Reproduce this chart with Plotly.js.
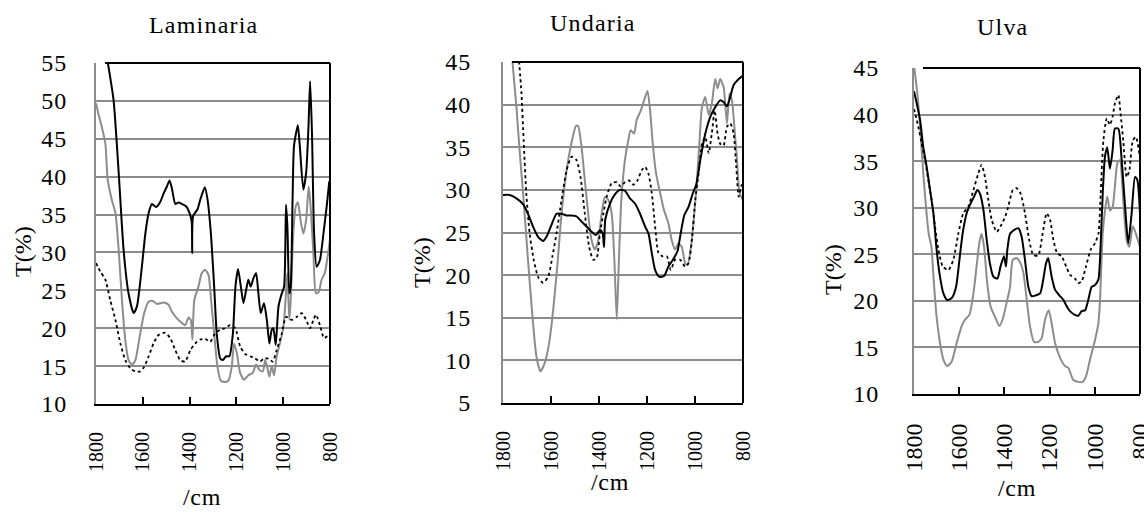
<!DOCTYPE html>
<html><head><meta charset="utf-8">
<script src="https://cdn.plot.ly/plotly-3.0.1.min.js"></script>
<style>html,body{margin:0;padding:0;background:#fff}#c{width:1144px;height:512px}</style>
</head><body><div id="c"></div>
<script>
// ---------- DATA ----------
const panelTitles = ["Laminaria", "Undaria", "Ulva"];
const xTickVals = [1800, 1600, 1400, 1200, 1000, 800];

// Laminaria
const lamBlackX = [1752,1725,1703,1682,1661,1639,1625,1604,1589,1575,1561,1543,1525,1511,1497,1486,1476,1461,1447,1433,1415,1400,1391,1389,1385,1366,1355,1335,1323,1309,1295,1284,1269,1258,1244,1230,1215,1204,1193,1181,1170,1158,1149,1139,1127,1116,1106,1096,1082,1070,1059,1049,1042,1032,1020,1006,996,988,982,974,968,960,954,942,937,928,914,902,892,885,877,868,857,843,828,814,803];
const lamBlackY = [55.5,50.1,40.5,30.3,24.6,22.0,22.9,28.1,32.5,35.2,36.4,36.0,36.7,37.8,38.7,39.5,38.5,36.4,36.6,36.4,36.1,35.2,34.0,29.9,34.8,35.7,36.9,38.6,36.9,32.5,25.5,19.3,16.0,15.8,16.3,16.3,19.3,25.5,27.8,25.5,23.3,25.1,26.4,25.5,26.6,27.3,24.6,22.0,23.3,21.1,18.0,19.8,20.0,17.8,22.9,24.6,25.5,36.3,33.4,24.6,25.5,36.9,44.0,46.2,46.8,43.6,38.3,40.5,46.6,52.6,45.8,32.5,28.1,29.0,32.5,36.1,39.4];
const lamGrayX = [1800,1789,1774,1760,1750,1732,1717,1703,1689,1675,1661,1646,1632,1611,1594,1575,1557,1540,1511,1490,1476,1454,1433,1419,1405,1395,1388,1380,1362,1348,1333,1319,1308,1295,1281,1267,1252,1234,1220,1210,1198,1184,1167,1149,1130,1116,1102,1087,1077,1067,1059,1049,1039,1028,1014,999,988,982,974,968,957,946,937,926,914,902,891,883,871,860,848,836,822,810,800];
const lamGrayY = [49.7,48.2,46.4,44.4,39.6,36.9,35.2,30.3,23.7,18.5,15.8,15.2,15.8,19.3,22.0,23.5,23.6,23.2,23.4,23.1,22.2,21.3,20.7,20.4,21.4,21.1,18.5,23.7,25.5,27.3,27.7,27.0,23.7,19.3,14.9,13.1,12.9,13.1,14.9,18.0,16.7,14.1,13.2,13.8,14.1,15.2,14.5,14.3,15.8,14.7,13.6,15.0,13.8,16.3,18.0,20.2,24.6,27.3,21.1,23.7,32.5,36.1,36.6,34.3,32.5,34.3,38.7,36.1,29.9,24.6,24.8,26.4,27.3,29.5,31.7];
const lamDotX = [1800,1782,1760,1739,1717,1696,1675,1653,1632,1611,1594,1575,1554,1533,1504,1483,1461,1440,1419,1397,1376,1355,1333,1312,1291,1269,1248,1227,1205,1184,1163,1141,1120,1099,1082,1063,1045,1028,1006,988,964,942,921,902,885,871,860,843,826,814,803];
const lamDotY = [28.6,27.5,26.4,23.7,21.1,18.0,15.8,14.7,14.3,14.3,14.9,16.3,18.0,19.1,19.4,18.7,17.1,15.8,15.6,17.1,18.0,18.5,18.6,18.2,19.3,19.8,20.0,20.4,20.0,17.6,16.6,16.3,16.0,15.6,16.0,16.0,15.6,17.1,19.3,21.5,21.1,21.5,22.0,21.1,20.0,21.1,21.8,20.4,18.7,18.9,19.3];

// Undaria
const undBlackX = [1800,1772,1744,1716,1696,1675,1654,1633,1619,1598,1577,1556,1535,1514,1494,1473,1452,1431,1413,1396,1385,1379,1374,1354,1333,1313,1292,1271,1250,1229,1208,1194,1180,1166,1148,1129,1111,1092,1073,1062,1045,1027,1009,995,978,957,936,916,895,881,867,856,839,818,800];
const undBlackY = [29.4,29.4,29.0,28.3,27.2,25.7,24.5,24.0,24.5,25.9,27.2,27.2,27.0,27.0,26.9,26.3,25.7,25.1,24.7,25.3,24.9,23.3,26.5,28.4,29.5,30.0,29.9,29.0,28.4,27.2,25.7,24.9,22.6,20.6,19.8,19.9,21.0,21.8,22.8,24.5,27.0,28.0,29.6,30.6,33.5,36.6,38.6,39.7,40.5,40.3,39.8,40.6,42.3,43.0,43.4];
const undGrayX = [1763,1744,1730,1714,1696,1677,1661,1644,1626,1608,1591,1574,1556,1535,1514,1496,1487,1473,1459,1445,1431,1417,1403,1389,1375,1361,1347,1336,1326,1318,1307,1292,1278,1268,1254,1243,1226,1212,1198,1187,1176,1162,1145,1129,1111,1097,1083,1069,1055,1041,1031,1017,1003,992,981,971,957,943,930,916,906,895,881,867,856,846,836,825,814,800];
const undGrayY = [45.8,39.7,34.3,28.8,21.8,15.1,10.5,8.7,9.7,12.0,15.9,21.0,27.2,32.3,35.6,37.5,37.5,35.1,31.1,27.2,24.1,23.0,24.1,27.2,29.2,28.8,27.2,21.8,14.8,21.0,28.8,33.5,35.8,37.0,36.6,38.2,39.3,40.5,41.6,39.3,35.4,31.9,29.6,27.6,26.1,24.1,23.0,23.7,23.3,21.4,21.2,23.3,27.2,31.1,35.8,39.7,40.9,38.8,40.1,43.0,41.9,43.0,42.1,37.8,41.3,40.5,37.4,33.5,29.6,28.8];
const undDotX = [1735,1723,1714,1703,1689,1672,1654,1633,1612,1594,1577,1556,1535,1514,1494,1477,1459,1441,1424,1410,1396,1382,1368,1347,1326,1310,1292,1274,1257,1240,1222,1208,1194,1180,1166,1152,1134,1117,1101,1083,1062,1041,1027,1013,999,985,971,957,943,930,918,906,895,881,867,853,839,828,818,808,800];
const undDotY = [45.8,41.3,35.8,29.6,24.9,21.8,19.8,19.1,19.8,22.2,24.9,28.8,32.3,33.9,33.5,31.5,27.2,23.3,21.8,22.0,24.9,27.2,29.2,30.8,30.9,30.4,30.9,31.1,30.6,31.1,32.3,32.7,31.9,29.6,25.7,22.6,22.2,22.2,20.6,21.8,21.8,21.0,21.4,24.1,28.8,31.9,35.4,36.2,34.3,36.6,39.3,36.6,35.4,35.2,37.4,37.8,36.6,32.7,29.2,30.4,30.8];

// Ulva
const ulvBlackX = [1800,1788,1773,1759,1744,1729,1714,1700,1685,1670,1653,1633,1614,1599,1585,1567,1549,1534,1520,1508,1493,1478,1464,1449,1431,1417,1402,1393,1387,1375,1358,1338,1324,1309,1294,1279,1260,1242,1228,1216,1206,1191,1176,1157,1139,1124,1110,1088,1073,1058,1043,1029,1014,999,984,977,965,955,945,933,921,911,896,881,866,852,837,822,812,800];
const ulvBlackY = [42.5,41.2,39.4,36.5,34.4,31.9,29.4,25.5,22.6,20.8,20.1,20.3,21.5,24.4,27.2,29.4,30.5,31.2,31.9,31.5,29.8,26.5,24.0,22.6,22.4,23.7,24.8,23.7,25.5,27.2,27.6,27.8,26.9,24.4,21.5,20.5,20.6,20.8,22.3,24.0,24.6,22.6,21.2,20.6,20.1,19.4,18.9,18.5,18.4,18.9,19.0,20.1,21.5,21.7,22.3,24.4,31.5,35.5,36.5,34.2,36.2,38.5,38.5,35.1,30.1,26.2,29.4,33.3,33.0,29.4];
const ulvGrayX = [1800,1785,1771,1759,1747,1735,1723,1712,1700,1685,1670,1653,1633,1611,1589,1574,1555,1537,1523,1511,1501,1490,1476,1461,1442,1422,1408,1390,1375,1363,1346,1328,1316,1301,1287,1269,1250,1235,1220,1204,1191,1176,1154,1132,1117,1095,1073,1054,1039,1021,999,984,977,965,955,945,933,921,911,900,889,874,859,847,832,818,800];
const ulvGrayY = [45.3,42.2,38.0,33.7,30.1,27.2,25.8,21.9,18.3,15.5,13.7,13.0,13.5,15.5,17.3,18.0,18.5,20.8,23.7,26.2,27.2,25.8,21.9,19.4,18.3,17.3,18.0,19.8,21.5,24.4,24.6,24.0,23.0,20.1,17.3,15.6,15.6,16.0,18.0,19.0,17.6,15.5,13.9,13.0,12.8,11.5,11.3,11.3,11.9,13.7,15.8,17.6,20.1,27.2,29.7,31.2,29.7,30.1,32.3,34.8,35.1,30.8,26.5,25.8,28.0,27.2,25.8];
const ulvDotX = [1800,1781,1766,1751,1737,1722,1707,1692,1673,1648,1626,1604,1582,1560,1537,1515,1501,1486,1471,1456,1434,1417,1397,1383,1363,1346,1328,1309,1290,1272,1250,1231,1213,1198,1183,1166,1147,1127,1110,1088,1073,1058,1039,1018,999,984,974,962,947,933,921,911,896,886,874,859,847,832,818,803];
const ulvDotY = [40.6,38.7,36.9,35.1,33.0,30.8,28.0,25.5,23.7,23.3,24.4,27.2,29.4,30.1,31.9,33.7,34.6,33.3,30.8,28.7,27.4,28.0,29.0,30.1,31.9,32.1,31.5,29.4,26.5,24.9,24.9,27.2,29.4,28.7,26.5,25.1,24.8,23.7,22.8,22.4,21.9,22.1,23.7,25.5,26.2,27.2,31.5,37.2,39.6,38.9,39.8,41.2,42.1,40.1,37.2,33.3,34.0,37.2,37.6,35.8];

const yRanges = [[10, 55], [5, 45], [10, 45]];

// ---------- LAYOUT / STYLE ----------
const W = 1144, H = 512;
const FONT = "Liberation Serif";
const GRID = "#8c8c8c";
const GRAYLINE = "#8c8c8c";
// pixel frames [left, right, top, bottom]
const frames = [[96, 330, 63, 404], [503, 743, 62, 403], [914, 1140, 68, 394]];
const xTickSize = [20, 20, 24];
const yStandoff = [22, 25, 28];
const spaced = (s, px) => '<span style="letter-spacing:' + px + 'px">' + s + '</span>';

const series = [
  [[lamGrayX, lamGrayY], [lamDotX, lamDotY], [lamBlackX, lamBlackY]],
  [[undGrayX, undGrayY], [undDotX, undDotY], [undBlackX, undBlackY]],
  [[ulvGrayX, ulvGrayY], [ulvDotX, ulvDotY], [ulvBlackX, ulvBlackY]]
];
const styles = [
  {color: GRAYLINE, width: 2, dash: "solid"},
  {color: "#000", width: 1.8, dash: "dot"},
  {color: "#000", width: 2, dash: "solid"}
];

const traces = [];
const layout = {
  width: W, height: H, margin: {l: 0, r: 0, t: 0, b: 0},
  paper_bgcolor: "#fff", plot_bgcolor: "#fff", showlegend: false,
  font: {family: FONT, color: "#000"},
  shapes: [], annotations: []
};

const titlePos = [[203, 25], [593, 23], [1002, 27]];
const xTitlePos = [[202, 497], [610, 482], [1017, 488]];
const yTitlePos = [[23, 252], [422, 263], [833, 270]];

for (let p = 0; p < 3; p++) {
  const sfx = p === 0 ? "" : String(p + 1);
  const [l, r, t, b] = frames[p];
  series[p].forEach((s, i) => {
    traces.push({
      type: "scatter", mode: "lines", x: s[0], y: s[1],
      xaxis: "x" + sfx, yaxis: "y" + sfx,
      line: Object.assign({shape: "spline", smoothing: 0.6}, styles[i]),
      hoverinfo: "skip"
    });
  });
  const yVals = [];
  for (let v = yRanges[p][0]; v <= yRanges[p][1]; v += 5) yVals.push(v);
  layout["xaxis" + sfx] = {
    domain: [l / W, r / W], anchor: "y" + sfx,
    range: [1800, 800], tickvals: xTickVals, ticktext: xTickVals.map(String),
    ticks: "inside", ticklen: 7, tickwidth: 2, tickcolor: "#000",
    showline: true, linecolor: "#000", linewidth: 2, showgrid: false, zeroline: false,
    tickangle: -90, tickfont: {family: FONT, size: xTickSize[p], color: "#000"}, ticklabelstandoff: 18,
    ticklabeloverflow: "allow"
  };
  layout["yaxis" + sfx] = {
    domain: [1 - b / H, 1 - t / H], anchor: "x" + sfx,
    range: yRanges[p], tickvals: yVals, ticktext: yVals.map(v => spaced(String(v), 1)),
    showgrid: true, gridcolor: GRID, gridwidth: 2,
    showline: true, linecolor: GRID, linewidth: 2, zeroline: false,
    ticks: "", tickfont: {family: FONT, size: 24, color: "#000"}, ticklabelstandoff: yStandoff[p]
  };
  const off = 9 / (r - l);
  layout.shapes.push(
    {type: "line", xref: "x" + sfx + " domain", yref: "y" + sfx + " domain", x0: off, x1: 1, y0: 1, y1: 1, line: {color: "#000", width: 2}, layer: "above"},
    {type: "line", xref: "x" + sfx + " domain", yref: "y" + sfx + " domain", x0: 1, x1: 1, y0: 0, y1: 1, line: {color: "#000", width: 2}, layer: "above"}
  );
  layout.annotations.push(
    {text: spaced(panelTitles[p], 1.2), xref: "paper", yref: "paper", x: titlePos[p][0] / W, y: 1 - titlePos[p][1] / H,
     xanchor: "center", yanchor: "middle", showarrow: false, font: {family: FONT, size: 24, color: "#000"}},
    {text: spaced("/cm", 0.7), xref: "paper", yref: "paper", x: xTitlePos[p][0] / W, y: 1 - xTitlePos[p][1] / H,
     xanchor: "center", yanchor: "middle", showarrow: false, font: {family: FONT, size: 24, color: "#000"}},
    {text: "T(%)", xref: "paper", yref: "paper", x: yTitlePos[p][0] / W, y: 1 - yTitlePos[p][1] / H,
     xanchor: "center", yanchor: "middle", textangle: -90, showarrow: false, font: {family: FONT, size: 24, color: "#000"}}
  );
}

Plotly.newPlot("c", traces, layout, {staticPlot: true, displayModeBar: false});
</script>
</body></html>
